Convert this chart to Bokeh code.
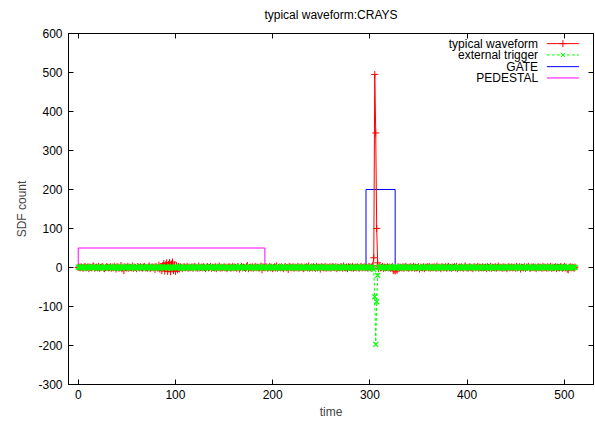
from bokeh.plotting import figure
from bokeh.models import Range1d, LinearAxis, FixedTicker, PrintfTickFormatter, CustomJSTickFormatter
from bokeh.embed import file_html
from bokeh.resources import INLINE
from bokeh.core.properties import value

# ---------------- data ----------------
time = list(range(512))

waveform = [
    0, 1, -1, 2, 0, -2, 1, 3, -1, 0, 2, -3, 1, 0, -1, 2, 4, -2, 0, 1, -1, 3, -2, 0, 1, 2, -1, -3, 0, 2, 1, -1,
    0, 2, -2, 1, -1, 3, 0, -4, 2, 1, -2, 0, 5, -3, 1, -8, 2, 0, -1, 3, -2, 1, 0, -1, 4, -2, 1, 0, -3, 2, 1, -1,
    2, 0, -2, 1, 3, -1, 0, -2, 1, 4, -3, 0, 2, -1, 1, -5, 3, 0, -2, 6, -4, 2, -8, 5, 10, -9, 7, 12, -10, 8, 13, -11,
    9, 14, -8, 6, -10, 5, -6, 3, -4, 2, 0, -3, 1, 2, -1, 0, 3, -2, 1, -1, 0, 2, -2, 1, 3, -1, 0, -2, 4, -1, 0, 1,
    -1, 2, 0, -3, 1, 2, -1, 0, 3, -2, 1, 0, -1, 2, -3, 1, 0, 4, -2, 1, -1, 0, 2, -1, 1, -3, 0, 2, 1, -2, 0, 3,
    -1, 1, 0, -2, 2, 1, -4, 0, 3, -1, 1, 0, -2, 2, 5, -3, 0, 1, -1, 2, -2, 0, 3, -1, 1, 0, -2, 1, 4, -6, 2, 0,
    -1, 2, 1, -2, 0, 3, -1, 1, -3, 0, 2, -1, 4, -2, 0, 1, -1, 2, 0, -3, 1, 2, -1, 0, -5, 3, 1, -1, 0, 2, -2, 1,
    0, -1, 3, -2, 1, 0, 2, -1, -3, 1, 0, 2, -1, 4, -2, 0, 1, -1, 2, 0, -2, 3, -1, 1, 0, -4, 2, 1, -1, 0, 3, -2,
    1, 0, -1, 2, -2, 1, 3, 0, -1, 2, -3, 1, 0, -1, 2, 1, -2, 4, 0, -1, 1, -3, 2, 0, 1, -1, 3, -2, 0, 1, -1, 2,
    0, -2, 1, 3, -1, 0, 2, -1, 1, 0, -2, 3, 1, -1, 2, 5, 25, 495, 345, 100, 12, -3, 2, -1, 0, 3, -2, 1, -1, 0, 2, -1,
    1, -2, 0, 3, -8, -6, -9, -5, -7, 2, -3, 1, 0, -1, 2, -2, 1, 3, -1, 0, -2, 1, 2, -1, 0, 3, -2, 1, -1, 0, 2, -4,
    1, 0, -1, 2, -3, 1, 0, 2, -1, 3, -2, 0, 1, -1, 2, 0, -2, 4, -1, 1, 0, -3, 2, 1, -1, 0, 2, -2, 1, 3, -1, 0,
    -2, 1, 0, 2, -1, 3, -3, 0, 1, -1, 2, 0, -2, 1, 4, -1, 0, -2, 1, 2, -1, 0, -3, 2, 1, -1, 0, 3, -2, 1, 0, -1,
    2, -1, 0, 1, -3, 2, 0, -1, 3, -2, 1, 0, -1, 2, -2, 0, 4, -1, 1, 0, -2, 2, -1, 1, 0, -3, 1, 2, -1, 0, 2, -1,
    0, 1, -2, 3, -1, 0, 2, -4, 1, 0, -1, 2, -2, 1, 0, 3, -1, -2, 1, 0, 2, -1, 1, -3, 0, 2, -1, 1, 0, -2, 3, -1,
    1, 0, -2, 2, -1, 0, 3, -2, 1, -1, 0, 2, -3, 1, 0, -1, 2, 1, -2, 0, 3, -1, 1, -4, -6, 0, 2, -1, 1, 0, -2, 1,
]

trigger = [
    1, 0, -1, 2, 0, -1, 0, 1, -2, 0, 1, 0, -1, 2, 0, -1, 1, 0, 0, -2, 1, -1, 0, 2, 0, -1, 1, 0, -2, 0, 1, 0,
    -1, 2, 0, 0, -1, 2, 0, -2, 1, 0, -2, 1, 0, -1, 2, 0, 1, -2, 0, 1, 0, -1, 2, -1, 0, 1, -2, 0, 1, 0, -1, 2,
    0, -1, 1, 0, 2, -1, 0, -2, 1, 2, 0, -1, 0, 1, -2, 0, 1, 0, -1, 2, -2, 0, 1, 0, -1, 1, 0, 2, -1, 0, 1, -2,
    0, 1, -1, 0, 2, 0, -1, 1, 0, -2, 2, -1, 0, 1, 0, -2, 1, -1, 0, 0, 2, -1, 1, 0, -2, 1, 0, -1, 2, 0, 1, -1,
    1, 0, -2, 0, 1, -1, 2, 0, 0, -1, 1, 0, -2, 2, 0, -1, 0, 1, -1, 2, 0, -1, 0, 1, 1, -2, 0, -1, 1, 0, -2, 1,
    0, -1, 2, 0, -1, 1, 0, 2, -1, 0, 1, -2, 0, 1, 0, -1, 2, 0, -1, 1, 0, 0, -2, 1, -1, 2, 0, -1, 1, 0, -2, 0,
    1, -1, 0, 2, 0, -1, 1, -2, 0, 1, 0, 0, -1, 2, 0, -2, 1, 0, -1, 2, 0, -1, 1, 0, 1, -2, 0, 1, -1, 0, 2, -1,
    0, 1, -2, 0, 1, -1, 0, 2, 0, -1, 1, 0, -2, 1, 1, -1, 0, 0, 2, -1, 0, 1, -2, 0, 1, -1, 0, 2, 0, -1, 1, 0,
    -1, 1, 0, -2, 0, 1, -1, 2, 0, -1, 1, 0, -2, 0, 1, -1, 2, 0, -1, 1, 0, 0, -2, 1, -1, 0, 2, 0, -1, 1, 0, -1,
    0, 1, -1, 0, 2, -1, 0, 1, 0, -2, 1, 0, -1, 1, 0, 0, -5, -75, -197, -88, -20, 1, 0, -1, 2, 0, -1, 1, 0, -2, 0, 1,
    -1, 0, 2, -1, 0, 1, 0, -2, 2, 0, -1, 1, 0, -1, 2, 0, -1, 0, 1, -2, 1, 0, 0, -1, 2, -1, 0, 1, 0, -2, 1, 0,
    1, -1, 0, 2, -1, 0, 1, 0, -2, 1, 0, -1, 0, 2, -1, 1, 0, -2, 2, 0, -1, 1, 0, -1, 0, 2, -1, 0, 1, 0, -2, 1,
    0, -1, 2, 0, -1, 1, 0, 0, -2, 1, -1, 0, 2, 0, -1, 1, 0, -2, 1, 0, -1, 2, 0, 1, -1, 0, 1, -2, 0, 1, 0, -1,
    1, 0, -2, 1, 0, -1, 2, 0, -1, 1, 0, -2, 1, 0, 0, -1, 2, -1, 0, 1, 0, -2, 1, 0, -1, 0, 2, -1, 1, 0, -1, 1,
    0, -1, 0, 2, -1, 1, 0, -2, 1, 0, -1, 0, 2, 1, -1, 0, -2, 1, 0, -1, 2, 0, -1, 1, 0, -2, 0, 1, -1, 2, 0, -1,
    1, 0, -1, 2, 0, 0, -2, 1, -1, 0, 2, 0, -1, 1, 0, -2, 1, 0, -1, 2, 0, -1, 1, 0, 1, -2, 0, 1, -1, 0, 1, 0,
]

gate_x = [296, 296, 326, 326]
gate_y = [0, 200, 200, 0]
pedestal_x = [0, 0, 192, 192]
pedestal_y = [0, 50, 50, 0]

x_ticks = [0, 100, 200, 300, 400, 500]
y_ticks = [-300, -200, -100, 0, 100, 200, 300, 400, 500, 600]

title_text = "typical waveform:CRAYS"
legend_labels = ["typical waveform", "external trigger", "GATE", "PEDESTAL"]
legend_rows_y = [574, 545, 515, 486]

# ---------------- styling ----------------
FONT = "Liberation Sans"
FS = "12px"
RED = "#ff0000"
GREEN = "#00ff00"
BLUE = "#0000ff"
MAGENTA = "#ff00ff"

p = figure(width=595, height=421, output_backend="svg", toolbar_location=None,
           x_range=Range1d(-10, 530), y_range=Range1d(-300, 600),
           min_border_left=68, min_border_right=2, min_border_top=33, min_border_bottom=36)
p.background_fill_color = "white"
p.border_fill_color = "white"
p.outline_line_color = "black"
p.outline_line_width = 1
p.grid.visible = False

for ax in (p.xaxis[0], p.yaxis[0]):
    ax.major_tick_in = 5
    ax.major_tick_out = 0
    ax.minor_tick_in = 0
    ax.minor_tick_out = 0
    ax.major_label_text_font = FONT
    ax.major_label_text_font_size = FS
    ax.major_label_text_color = "black"
    ax.axis_label_text_font = FONT
    ax.axis_label_text_font_size = FS
    ax.axis_label_text_font_style = "normal"
    ax.axis_line_color = "black"
    ax.major_tick_line_color = "black"
    ax.formatter = PrintfTickFormatter(format="%d")

p.xaxis[0].ticker = FixedTicker(ticks=x_ticks)
p.yaxis[0].ticker = FixedTicker(ticks=y_ticks)
p.xaxis[0].axis_label = "time"
p.yaxis[0].axis_label = "SDF count"
p.xaxis[0].major_label_standoff = 5
p.xaxis[0].axis_label_standoff = 3
p.yaxis[0].major_label_standoff = 6
p.yaxis[0].axis_label_standoff = 6

# mirrored ticks on top and right (no tick labels); the top one carries the title
top_ax = LinearAxis(ticker=FixedTicker(ticks=x_ticks))
right_ax = LinearAxis(ticker=FixedTicker(ticks=y_ticks))
for ax in (top_ax, right_ax):
    ax.major_tick_in = 5
    ax.major_tick_out = 0
    ax.minor_tick_in = 0
    ax.minor_tick_out = 0
    ax.formatter = CustomJSTickFormatter(code="return '';")
    ax.major_label_text_font_size = "1px"
    ax.major_label_standoff = 0
    ax.axis_line_color = "black"
    ax.major_tick_line_color = "black"
top_ax.axis_label = title_text
top_ax.axis_label_text_font = FONT
top_ax.axis_label_text_font_size = FS
top_ax.axis_label_text_font_style = "normal"
top_ax.axis_label_text_color = "black"
top_ax.axis_label_standoff = 12
p.add_layout(top_ax, "above")
p.add_layout(right_ax, "right")

# ---------------- marks ----------------
p.line(gate_x, gate_y, line_color=BLUE, line_width=1)
p.line(pedestal_x, pedestal_y, line_color=MAGENTA, line_width=1)

p.line(time, waveform, line_color=RED, line_width=1)
p.scatter(time, waveform, marker="cross", size=7, line_color=RED, line_width=1)

p.line(time, trigger, line_color=GREEN, line_width=1, line_dash="3 2")
p.scatter(time, trigger, marker="x", size=7, line_color=GREEN, line_width=1.2)

# ---------------- legend (gnuplot style: label right-aligned, sample at right) ----------------
LEG_TEXT_X = 473
LEG_LINE_X0 = 482
LEG_LINE_X1 = 515
LEG_MARK_X = 498.5
p.text(x=[LEG_TEXT_X] * 4, y=legend_rows_y, text=legend_labels,
       text_align="right", text_baseline="middle",
       text_font=value(FONT), text_font_size=FS, text_color="black")
colors = [RED, GREEN, BLUE, MAGENTA]
dashes = ["solid", "3 2", "solid", "solid"]
for yy, c, d in zip(legend_rows_y, colors, dashes):
    p.line([LEG_LINE_X0, LEG_LINE_X1], [yy, yy], line_color=c, line_width=1, line_dash=d)
p.scatter([LEG_MARK_X], [legend_rows_y[0]], marker="cross", size=7, line_color=RED)
p.scatter([LEG_MARK_X], [legend_rows_y[1]], marker="x", size=6, line_color=GREEN)

open("out.html", "w").write(file_html(p, INLINE))
